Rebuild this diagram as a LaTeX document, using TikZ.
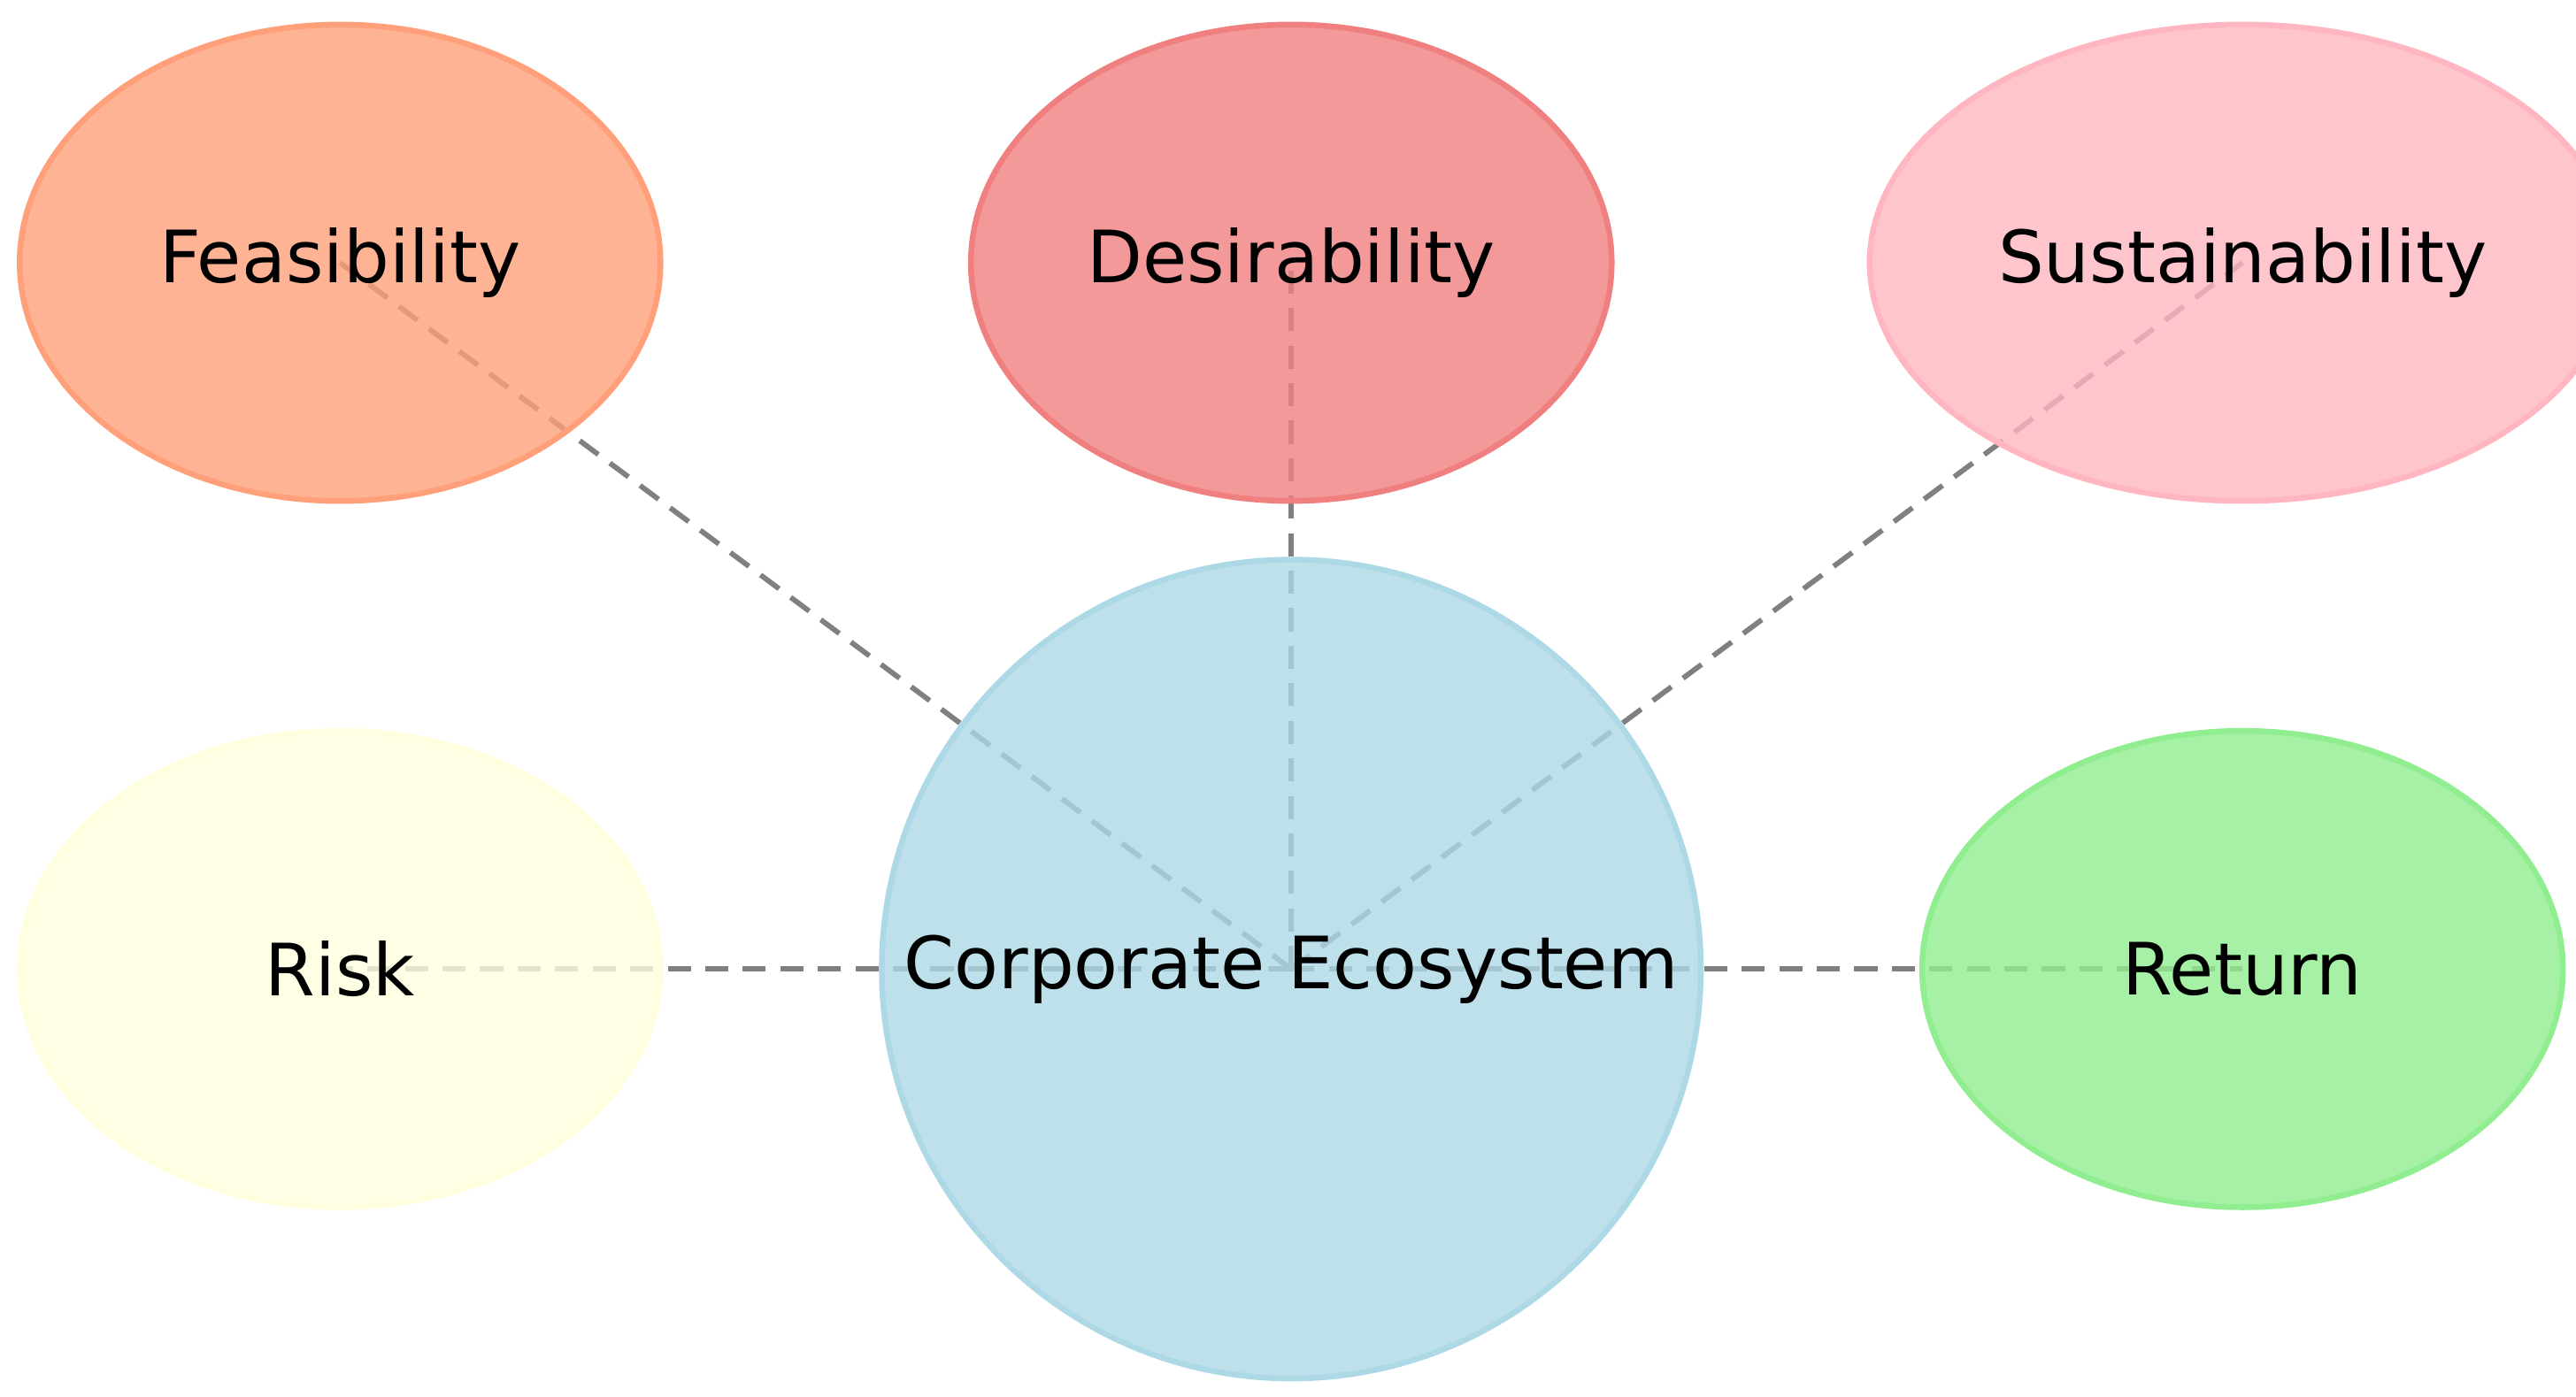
\documentclass[tikz,border=0pt]{standalone}
\usepackage{fontspec}
\setmainfont{DejaVu Sans}
\usetikzlibrary{shapes.geometric,backgrounds}
\definecolor{feascol}{HTML}{FFA07A}
\definecolor{descol}{HTML}{F08080}
\definecolor{suscol}{HTML}{FFB6C1}
\definecolor{riskcol}{HTML}{FFFFE0}
\definecolor{retcol}{HTML}{90EE90}
\definecolor{corecol}{HTML}{ADD8E6}
\tikzset{
  bubble/.style={ellipse, minimum width=3.9cm, minimum height=2.9cm, fill=#1, fill opacity=0.8, draw=#1, line width=1pt, text opacity=1, font=\fontsize{12.5}{15}\selectfont},
  link/.style={draw=gray, line width=0.9pt, dash pattern=on 4pt off 2.5pt}
}
\begin{document}
\begin{tikzpicture}
    \useasboundingbox (0,0) rectangle (15.68,8.5);
    \node[bubble=corecol, circle, minimum size=4.9cm] (core) at (7.86,2.6) {Corporate Ecosystem};
    \node[bubble=feascol] (feas) at (2.07,6.9) {Feasibility};
    \node[bubble=descol] (des) at (7.86,6.9) {Desirability};
    \node[bubble=suscol] (sus) at (13.65,6.9) {Sustainability};
    \node[bubble=riskcol] (risk) at (2.07,2.6) {Risk};
    \node[bubble=retcol] (ret) at (13.65,2.6) {Return};
    % dashed links behind the bubbles
    \begin{scope}[on background layer]
    \foreach \n in {feas,des,sus,risk,ret}
        \draw[link] (core.center) -- (\n.center);
    \end{scope}
\end{tikzpicture}
\end{document}
